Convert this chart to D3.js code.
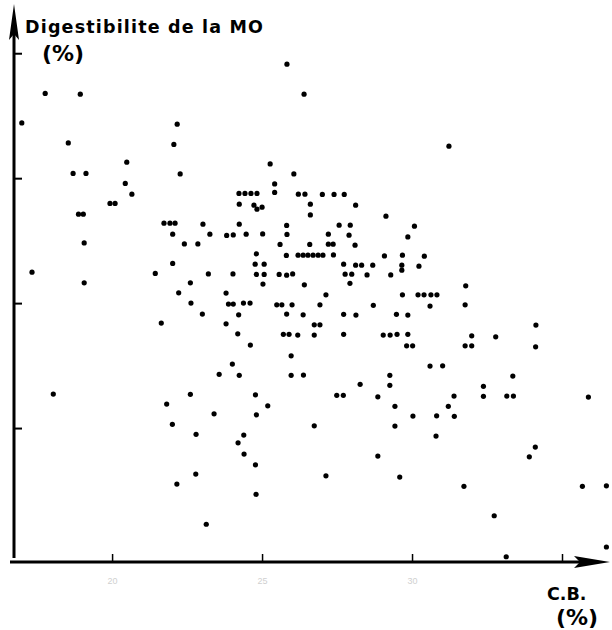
<!DOCTYPE html>
<html>
<head>
<meta charset="utf-8">
<script src="https://cdn.jsdelivr.net/npm/d3@7"></script>
<style>
  html, body { margin: 0; padding: 0; background: #fff; }
  svg { display: block; }
  text.title { font-family: "DejaVu Sans", "Liberation Sans", Arial, sans-serif; font-weight: bold; }
</style>
</head>
<body>
<svg id="chart" width="612" height="630"></svg>
<script>
// C.B. (%) values
const cb = [
16.99,17.77,18.94,18.54,20.49,18.70,19.13,20.44,20.66,19.93,20.10,18.88,19.04,19.07,17.33,21.44,19.07,18.04,
25.83,26.40,22.17,22.06,25.27,22.27,26.06,25.42,24.23,24.43,24.63,24.83,25.42,26.21,26.43,24.24,24.73,24.83,25.00,
26.61,26.61,21.73,21.93,22.10,23.03,24.24,25.82,22.02,23.26,23.82,24.04,24.47,25.02,25.83,22.41,22.86,25.60,26.59,
24.81,25.81,26.20,26.37,26.53,26.70,26.87,27.03,27.38,22.02,24.77,25.07,23.21,24.03,24.81,25.07,25.57,25.82,26.02,
22.61,25.03,26.41,22.22,23.80,22.63,23.88,24.04,24.38,24.60,25.49,25.66,26.00,26.93,23.01,24.22,25.82,26.37,21.64,
23.80,26.74,26.93,24.19,25.71,25.90,26.19,26.74,
31.23,27.01,27.40,27.74,28.12,29.13,27.57,27.94,30.08,27.21,27.90,29.86,27.21,27.37,28.10,29.08,29.68,30.41,27.72,
28.12,28.32,28.69,29.66,29.66,30.23,27.77,27.99,28.50,29.29,27.93,31.79,27.13,29.68,30.20,30.40,30.63,30.83,28.71,
30.60,31.77,27.72,28.13,29.48,29.86,27.72,29.04,29.27,29.50,29.86,31.99,
32.79,29.82,30.02,31.77,31.99,34.12,30.60,31.02,29.26,33.36,28.27,29.26,32.38,27.49,27.71,28.86,31.40,32.38,33.16,
33.38,35.88,29.43,31.21,30.03,30.82,31.41,29.43,30.80,34.11,28.86,33.91,29.59,31.73,35.68,36.48,32.74,36.48,33.14,
24.61,25.97,24.01,23.57,24.24,25.97,26.38,22.61,24.78,21.82,25.19,23.40,24.81,22.01,26.74,22.80,24.39,24.20,24.40,
24.78,22.79,27.13,22.16,24.80,23.14,34.13
];
// Digestibilite de la MO (%) values
const dmo = [
74.42,76.78,76.72,72.82,71.28,70.38,70.38,69.58,68.72,67.98,67.98,67.12,67.12,64.82,62.48,62.38,61.62,52.72,
79.12,76.72,74.32,72.70,71.14,70.34,70.34,69.54,68.78,68.78,68.78,68.78,68.86,68.72,68.72,67.92,67.84,67.52,67.68,
67.92,67.06,66.40,66.40,66.40,66.32,66.32,66.22,65.52,65.52,65.42,65.46,65.52,65.54,65.50,64.74,64.74,64.70,64.70,
63.94,63.82,63.84,63.84,63.84,63.84,63.84,63.84,63.86,63.18,63.12,63.12,62.34,62.34,62.30,62.30,62.30,62.24,62.34,
61.62,61.52,61.46,60.82,60.80,60.00,59.92,59.92,60.00,60.00,59.86,59.86,59.86,59.86,59.12,59.06,59.12,59.06,58.40,
58.34,58.26,58.26,57.54,57.50,57.50,57.44,57.44,
72.56,68.70,68.70,68.70,67.84,66.96,66.24,66.24,66.16,65.52,65.44,65.30,64.72,64.72,64.64,63.78,63.84,63.76,63.12,
63.04,63.04,63.04,63.04,62.64,62.96,62.32,62.32,62.26,62.26,61.58,61.38,60.66,60.66,60.66,60.66,60.66,60.66,59.82,
59.76,59.86,59.10,59.04,59.10,59.04,57.50,57.44,57.44,57.50,57.50,57.38,
57.30,56.58,56.58,56.58,56.58,56.50,54.96,54.98,54.22,54.16,53.50,53.42,53.34,52.62,52.62,52.50,52.56,52.54,52.56,
52.56,52.48,51.74,51.74,50.96,50.98,50.94,50.16,49.36,48.48,47.76,47.70,46.08,45.34,45.34,45.38,42.98,40.48,39.70,
56.64,55.78,55.12,54.30,54.22,54.22,54.24,52.70,52.66,51.92,51.78,51.14,51.06,50.30,50.18,49.50,49.44,48.82,47.92,
47.06,46.32,46.18,45.52,44.70,42.30,58.24
];
const xTicks = [20, 25, 30, 35];
const xTickLabels = ["20", "25", "30", ""];
const yTicks = [50, 60, 70, 80];
const yTitle = "Digestibilite de la MO";
const yUnit = "(%)";
const xTitle = "C.B.";
const xUnit = "(%)";

const svg = d3.select("#chart");
const x = d3.scaleLinear().domain([16.73, 36.6]).range([14, 610]);
const y = d3.scaleLinear().domain([39.6, 83.7]).range([558, 7]);

const x0 = x.range()[0];
const xAxisY = 562;

// X axis (ticks pointing up)
const xAxis = d3.axisBottom(x)
  .tickValues(xTicks)
  .tickSizeInner(-8).tickSizeOuter(0)
  .tickPadding(16)
  .tickFormat((d, i) => xTickLabels[i]);
const gx = svg.append("g").attr("transform", `translate(0,${xAxisY})`).call(xAxis);
gx.select(".domain").remove();
gx.selectAll(".tick line").attr("stroke", "#000").attr("stroke-width", 1.5);
gx.selectAll(".tick text").attr("fill", "#d0d0d0").attr("font-size", 9)
  .attr("font-family", "Liberation Sans, Arial, sans-serif");
svg.append("line")
  .attr("x1", x0 - 4).attr("x2", x.range()[1] - 30)
  .attr("y1", xAxisY).attr("y2", xAxisY)
  .attr("stroke", "#000").attr("stroke-width", 3.2);
const xr = x.range()[1];
svg.append("path")
  .attr("d", `M${xr},${xAxisY} L${xr - 36},${xAxisY - 6} L${xr - 30},${xAxisY} L${xr - 36},${xAxisY + 6} Z`)
  .attr("fill", "#000");

// Y axis (ticks pointing right, no labels)
const yAxis = d3.axisLeft(y)
  .tickValues(yTicks)
  .tickSizeInner(-8).tickSizeOuter(0)
  .tickFormat("");
const gy = svg.append("g").attr("transform", `translate(${x0},0)`).call(yAxis);
gy.select(".domain").remove();
gy.selectAll(".tick line").attr("stroke", "#000").attr("stroke-width", 2);
const yTop = y.range()[1] - 3;
svg.append("line")
  .attr("x1", x0).attr("x2", x0)
  .attr("y1", y.range()[0]).attr("y2", yTop + 30)
  .attr("stroke", "#000").attr("stroke-width", 3);
svg.append("path")
  .attr("d", `M${x0},${yTop} L${x0 - 5},${yTop + 36} L${x0},${yTop + 30} L${x0 + 5},${yTop + 36} Z`)
  .attr("fill", "#000");

// Points
svg.append("g").selectAll("circle")
  .data(cb.map((c, i) => [c, dmo[i]]))
  .join("circle")
  .attr("cx", d => x(d[0]))
  .attr("cy", d => y(d[1]))
  .attr("r", 2.6)
  .attr("fill", "#000");

// Titles
svg.append("text").attr("class", "title").attr("x", 25).attr("y", 33)
  .attr("font-size", 17.5).attr("textLength", 238).attr("lengthAdjust", "spacing")
  .text(yTitle);
svg.append("text").attr("class", "title").attr("x", 42).attr("y", 61)
  .attr("font-size", 22)
  .text(yUnit);
svg.append("text").attr("class", "title").attr("x", 547).attr("y", 600)
  .attr("font-size", 17.5)
  .text(xTitle);
svg.append("text").attr("class", "title").attr("x", 556).attr("y", 625)
  .attr("font-size", 22)
  .text(xUnit);
</script>
</body>
</html>
